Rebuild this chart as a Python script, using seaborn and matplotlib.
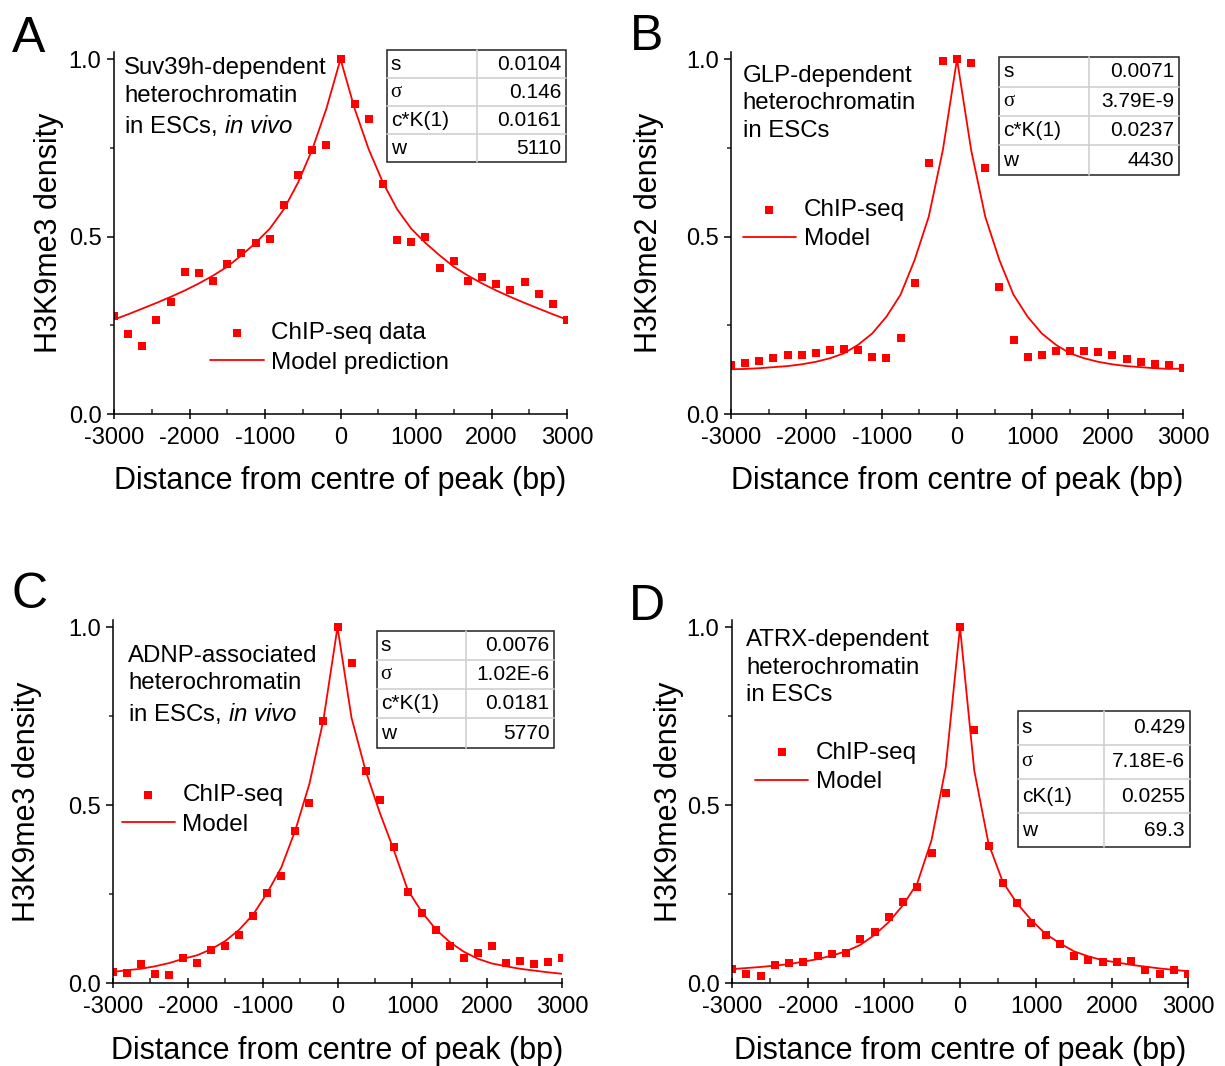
import numpy as np
import pandas as pd
import matplotlib
matplotlib.use("Agg")
import matplotlib.pyplot as plt
import seaborn as sns
from matplotlib.lines import Line2D
from matplotlib.patches import Rectangle
from matplotlib.ticker import MultipleLocator, FormatStrFormatter

W, H = 1225, 1066

# bin centres (bp), 33 bins from -3000 to 3000
distance = np.linspace(-3000, 3000, 33)

# panel A: Suv39h
chip_a = [0.275, 0.225, 0.191, 0.266, 0.315, 0.400, 0.396, 0.374, 0.424, 0.455, 0.482,
          0.493, 0.589, 0.674, 0.745, 0.758, 1.000, 0.873, 0.832, 0.649, 0.490, 0.486,
          0.499, 0.410, 0.430, 0.374, 0.386, 0.365, 0.350, 0.371, 0.337, 0.310, 0.266]
model_a = [0.266, 0.281, 0.297, 0.313, 0.330, 0.348, 0.368, 0.390, 0.415, 0.447, 0.482,
           0.522, 0.577, 0.652, 0.745, 0.860, 1.000, 0.860, 0.745, 0.652, 0.577, 0.522,
           0.482, 0.447, 0.415, 0.390, 0.368, 0.348, 0.330, 0.313, 0.297, 0.281, 0.266]

# panel B: GLP
chip_b = [0.138, 0.145, 0.150, 0.157, 0.166, 0.166, 0.171, 0.180, 0.183, 0.179, 0.161,
          0.157, 0.213, 0.369, 0.706, 0.994, 1.000, 0.989, 0.694, 0.358, 0.209, 0.161,
          0.166, 0.178, 0.178, 0.178, 0.174, 0.166, 0.154, 0.147, 0.140, 0.138, 0.131]
model_b = [0.126, 0.127, 0.129, 0.132, 0.135, 0.140, 0.147, 0.157, 0.171, 0.195, 0.227,
           0.274, 0.336, 0.434, 0.556, 0.744, 1.000, 0.744, 0.556, 0.434, 0.336, 0.274,
           0.227, 0.195, 0.171, 0.157, 0.147, 0.140, 0.135, 0.132, 0.129, 0.127, 0.128]

# panel C: ADNP
chip_c = [0.030, 0.028, 0.054, 0.026, 0.023, 0.071, 0.057, 0.094, 0.104, 0.134, 0.189,
          0.254, 0.301, 0.426, 0.506, 0.737, 1.000, 0.898, 0.597, 0.515, 0.383, 0.256,
          0.196, 0.148, 0.103, 0.069, 0.085, 0.105, 0.056, 0.062, 0.054, 0.060, 0.070]
model_c = [0.031, 0.036, 0.040, 0.047, 0.056, 0.068, 0.078, 0.095, 0.118, 0.150, 0.193,
           0.254, 0.325, 0.430, 0.560, 0.740, 1.000, 0.745, 0.597, 0.480, 0.375, 0.262,
           0.200, 0.151, 0.115, 0.088, 0.068, 0.055, 0.047, 0.040, 0.035, 0.030, 0.026]

# panel D: ATRX
chip_d = [0.040, 0.026, 0.019, 0.050, 0.057, 0.060, 0.076, 0.082, 0.085, 0.125, 0.144,
          0.186, 0.228, 0.269, 0.365, 0.534, 1.000, 0.711, 0.385, 0.280, 0.226, 0.170,
          0.135, 0.109, 0.076, 0.065, 0.059, 0.060, 0.063, 0.037, 0.026, 0.037, 0.025]
model_d = [0.039, 0.042, 0.045, 0.049, 0.053, 0.060, 0.067, 0.077, 0.089, 0.107, 0.135,
           0.171, 0.219, 0.280, 0.401, 0.606, 1.000, 0.597, 0.392, 0.284, 0.224, 0.177,
           0.138, 0.112, 0.089, 0.075, 0.064, 0.058, 0.051, 0.046, 0.041, 0.037, 0.033]

param_names_a = ["s", "σ", "c*K(1)", "w"]
param_names_d = ["s", "σ", "cK(1)", "w"]
params_a = ["0.0104", "0.146", "0.0161", "5110"]
params_b = ["0.0071", "3.79E-9", "0.0237", "4430"]
params_c = ["0.0076", "1.02E-6", "0.0181", "5770"]
params_d = ["0.429", "7.18E-6", "0.0255", "69.3"]

sns.set_theme(style="ticks")
plt.rcParams["font.family"] = ["Liberation Sans", "DejaVu Sans"]
plt.rcParams["mathtext.fontset"] = "custom"
plt.rcParams["mathtext.rm"] = "Liberation Sans"
plt.rcParams["mathtext.it"] = "Liberation Sans:italic"
plt.rcParams["axes.linewidth"] = 1.1
plt.rcParams["axes.edgecolor"] = "black"
plt.rcParams["axes.unicode_minus"] = False
plt.rcParams["text.color"] = "black"
plt.rcParams["axes.labelcolor"] = "black"

fig = plt.figure(figsize=(W / 100, H / 100), dpi=100)


def px_axes(l, t, r, b):
    return fig.add_axes([l / W, 1 - b / H, (r - l) / W, (b - t) / H])


def draw_table(box, split, names, values):
    x0, y0, x1, y1 = box
    n = len(names)
    h = (y1 - y0) / n
    fx = lambda v: v / W
    fy = lambda v: 1 - v / H
    for i in range(1, n):
        yy = y0 + i * h
        fig.add_artist(Line2D([fx(x0), fx(x1)], [fy(yy), fy(yy)], color="#cfcfcf",
                              lw=1.2, transform=fig.transFigure))
    fig.add_artist(Line2D([fx(split), fx(split)], [fy(y0), fy(y1)], color="#cfcfcf",
                          lw=1.2, transform=fig.transFigure))
    fig.add_artist(Rectangle((fx(x0), fy(y1)), fx(x1) - fx(x0), fy(y0) - fy(y1),
                             fill=False, ec="#222222", lw=1.1, transform=fig.transFigure))
    for i, (nm, val) in enumerate(zip(names, values)):
        yc = y0 + (i + 0.5) * h
        fam = ["Liberation Serif"] if nm == "σ" else ["Liberation Sans"]
        fig.text(fx(x0 + 4), fy(yc), nm, ha="left", va="center", fontsize=15,
                 family=fam)
        fig.text(fx(x1 - 5), fy(yc), val, ha="right", va="center", fontsize=15)


panels = [
    dict(letter="A", rect=(114, 52, 567, 414), chip=chip_a, model=model_a,
         ylabel="H3K9me3 density", ylab_x=-0.110,
         note="Suv39h-dependent\nheterochromatin\nin ESCs, $\\mathit{in\\ vivo}$",
         note_xy=(0.022, 0.985),
         leg=("ChIP-seq data", "Model prediction"), leg_xy=(0.212, 0.182),
         table=((386.7, 50, 566, 162.3), 476.7, param_names_a, params_a),
         letter_xy=(12, 52)),
    dict(letter="B", rect=(731, 52, 1183, 414), chip=chip_b, model=model_b,
         ylabel="H3K9me2 density", ylab_x=-0.148,
         note="GLP-dependent\nheterochromatin\nin ESCs", note_xy=(0.026, 0.965),
         leg=("ChIP-seq", "Model"), leg_xy=(0.026, 0.523),
         table=((999.3, 57.3, 1179.3, 174.7), 1089.3, param_names_a, params_b),
         letter_xy=(630, 50)),
    dict(letter="C", rect=(113, 620, 562, 983), chip=chip_c, model=model_c,
         ylabel="H3K9me3 density", ylab_x=-0.158,
         note="ADNP-associated\nheterochromatin\nin ESCs, $\\mathit{in\\ vivo}$",
         note_xy=(0.034, 0.932),
         leg=("ChIP-seq", "Model"), leg_xy=(0.019, 0.477),
         table=((376.7, 630.7, 554.3, 747.7), 465.7, param_names_a, params_c),
         letter_xy=(12, 608)),
    dict(letter="D", rect=(732, 620, 1188, 983), chip=chip_d, model=model_d,
         ylabel="H3K9me3 density", ylab_x=-0.105,
         note="ATRX-dependent\nheterochromatin\nin ESCs", note_xy=(0.031, 0.975),
         leg=("ChIP-seq", "Model"), leg_xy=(0.050, 0.594),
         table=((1017.7, 710.7, 1190, 847.3), 1104.3, param_names_d, params_d),
         letter_xy=(629, 620)),
]

for p in panels:
    ax = px_axes(*p["rect"])
    df = pd.DataFrame({"distance": distance, "chip": p["chip"], "model": p["model"]})
    sns.scatterplot(data=df, x="distance", y="chip", marker="s", s=30, color="#ff0000",
                    linewidth=0, ax=ax, label=p["leg"][0], zorder=3)
    sns.lineplot(data=df, x="distance", y="model", color="#ff0000", lw=1.3, ax=ax,
                 label=p["leg"][1], errorbar=None, zorder=4)
    ax.set_xlim(-3000, 3000)
    ax.set_ylim(0, 1.02)
    ax.xaxis.set_major_locator(MultipleLocator(1000))
    ax.xaxis.set_minor_locator(MultipleLocator(500))
    ax.yaxis.set_major_locator(MultipleLocator(0.5))
    ax.yaxis.set_minor_locator(MultipleLocator(0.25))
    ax.tick_params(axis="x", which="major", direction="inout", length=7, width=1.1,
                   labelsize=17, pad=6, colors="black")
    ax.tick_params(axis="x", which="minor", direction="in", length=3.5, width=1.1)
    ax.tick_params(axis="y", which="major", direction="out", length=5, width=1.1,
                   labelsize=17, pad=4, colors="black")
    ax.tick_params(axis="y", which="minor", direction="out", length=3, width=1.1)
    ax.yaxis.set_major_formatter(FormatStrFormatter("%.1f"))
    sns.despine(ax=ax)
    ax.set_xlabel("Distance from centre of peak (bp)", fontsize=22)
    ax.set_ylabel(p["ylabel"], fontsize=22)
    ax.xaxis.set_label_coords(0.5, -0.145)
    ax.yaxis.set_label_coords(p["ylab_x"], 0.5)
    ax.set_facecolor("white")
    for sp in ax.spines.values():
        sp.set_zorder(5)

    ax.text(p["note_xy"][0], p["note_xy"][1], p["note"], transform=ax.transAxes,
            ha="left", va="top", fontsize=17.3, linespacing=1.32)

    handles, labels = ax.get_legend_handles_labels()
    ax.legend(handles, labels, loc="center left", bbox_to_anchor=p["leg_xy"],
              frameon=False, fontsize=17.5, handlelength=2.2, handletextpad=0.3,
              labelspacing=0.3, borderpad=0, borderaxespad=0, markerscale=1.0)

    draw_table(*p["table"])
    fig.text(p["letter_xy"][0] / W, 1 - p["letter_xy"][1] / H, p["letter"],
             fontsize=36, ha="left", va="baseline")

fig.savefig("out.png", dpi=100, facecolor="white")
